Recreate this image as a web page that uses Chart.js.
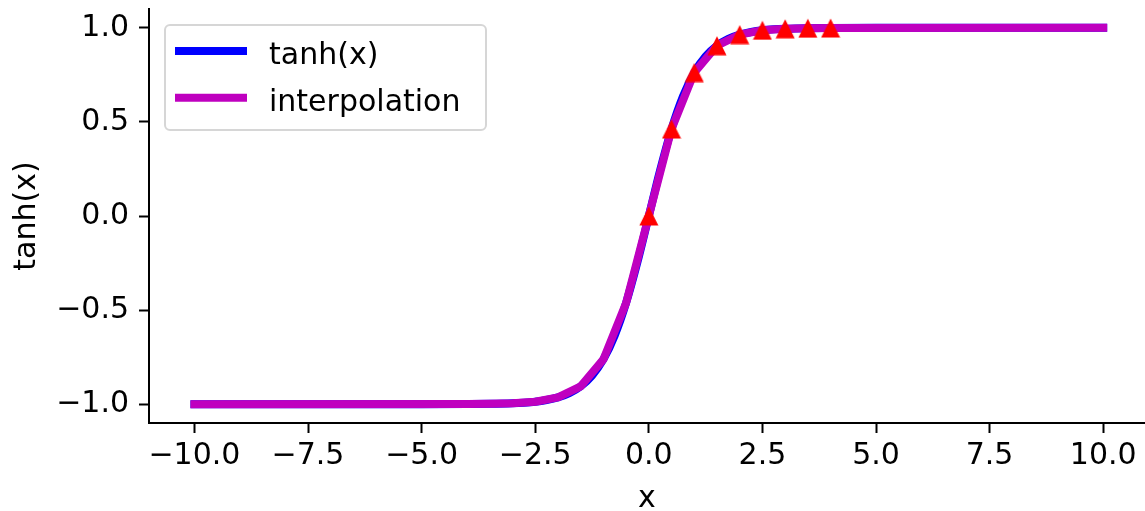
<!DOCTYPE html>
<html lang="en">
<head>
<meta charset="UTF-8" />
<title>tanh(x) and interpolation</title>
<script src="https://cdn.jsdelivr.net/npm/chart.js@4.4.1/dist/chart.umd.min.js"></script>
<style>
    html, body { margin: 0; padding: 0; background: #fff; }
    #wrap { width: 1145px; height: 511px; }
</style>
</head>
<body>
<div id="wrap"><canvas id="tanhChart" width="1145" height="511"></canvas></div>
<script>
    // blue curve
    const tanhX = [-10, -6, -5, -4, -3.5, -3, -2.75, -2.5, -2.25, -2, -1.75, -1.5, -1.25, -1, -0.75, -0.5, -0.25, 0,
                   0.25, 0.5, 0.75, 1, 1.25, 1.5, 1.75, 2, 2.25, 2.5, 2.75, 3, 3.5, 4, 5, 6, 10];
    const tanhY = [-1.0, -1.0, -0.9999, -0.999, -0.998, -0.995, -0.992, -0.987, -0.978, -0.964, -0.941, -0.905, -0.848, -0.762, -0.635, -0.462, -0.245, 0,
                   0.245, 0.462, 0.635, 0.762, 0.848, 0.905, 0.941, 0.964, 0.978, 0.987, 0.992, 0.995, 0.998, 0.999, 0.9999, 1.0, 1.0];

    // magenta piecewise line
    const interpX = [-10, -4, -3.5, -3, -2.5, -2, -1.5, -1, -0.5, 0, 0.5, 1, 1.5, 2, 2.5, 3, 3.5, 4, 10];
    const interpY = [-1.0, -0.999, -0.998, -0.995, -0.987, -0.964, -0.905, -0.762, -0.462, 0, 0.462, 0.762, 0.905, 0.964, 0.987, 0.995, 0.998, 0.999, 1.0];

    // red triangles
    const sampleX = [0, 0.5, 1, 1.5, 2, 2.5, 3, 3.5, 4];
    const sampleY = [0, 0.462, 0.762, 0.905, 0.964, 0.987, 0.995, 0.998, 0.999];

    const xTicks = [-10, -7.5, -5, -2.5, 0, 2.5, 5, 7.5, 10];
    const xTickLabels = ['\u221210.0', '\u22127.5', '\u22125.0', '\u22122.5', '0.0', '2.5', '5.0', '7.5', '10.0'];
    const yTicks = [-1, -0.5, 0, 0.5, 1];
    const yTickLabels = ['\u22121.0', '\u22120.5', '0.0', '0.5', '1.0'];

    const legendOrder = ['tanh(x)', 'interpolation'];

    const pts = (xs, ys) => xs.map((x, i) => ({ x: x, y: ys[i] }));

    // matplotlib-like '^' marker
    function makeTriangle(size, color) {
        const c = document.createElement('canvas');
        c.width = size;
        c.height = size;
        const g = c.getContext('2d');
        g.fillStyle = color;
        g.beginPath();
        g.moveTo(size / 2, 0.5);
        g.lineTo(size - 0.5, size - 0.5);
        g.lineTo(0.5, size - 0.5);
        g.closePath();
        g.fill();
        return c;
    }

    const legendBox = {
        id: 'legendBox',
        afterDraw(chart) {
            const ctx = chart.ctx;
            const x0 = 165, y0 = 25, w = 321, h = 105, r = 5;
            ctx.save();
            ctx.beginPath();
            ctx.moveTo(x0 + r, y0);
            ctx.arcTo(x0 + w, y0, x0 + w, y0 + h, r);
            ctx.arcTo(x0 + w, y0 + h, x0, y0 + h, r);
            ctx.arcTo(x0, y0 + h, x0, y0, r);
            ctx.arcTo(x0, y0, x0 + w, y0, r);
            ctx.closePath();
            ctx.fillStyle = 'rgba(255,255,255,0.8)';
            ctx.fill();
            ctx.strokeStyle = '#d6d6d6';
            ctx.lineWidth = 2;
            ctx.stroke();

            legendOrder.forEach((name, i) => {
                const ds = chart.data.datasets.find(d => d.label === name);
                const yy = y0 + 26 + i * 46.7;
                ctx.beginPath();
                ctx.moveTo(x0 + 10, yy);
                ctx.lineTo(x0 + 82, yy);
                ctx.strokeStyle = ds.borderColor;
                ctx.lineWidth = 8;
                ctx.lineCap = 'butt';
                ctx.stroke();
                ctx.fillStyle = '#000';
                ctx.font = "30px 'DejaVu Sans'";
                ctx.textAlign = 'left';
                ctx.textBaseline = 'alphabetic';
                ctx.fillText(name, x0 + 104, yy + 13);
            });
            ctx.restore();
        }
    };

    Chart.defaults.font.family = "'DejaVu Sans', sans-serif";
    Chart.defaults.font.size = 30;
    Chart.defaults.color = '#000';

    const axisGrid = { display: true, drawOnChartArea: false, drawTicks: true, tickLength: 10, tickWidth: 2, tickColor: '#000' };
    const axisBorder = { display: true, color: '#000', width: 2 };

    const ctx = document.getElementById('tanhChart').getContext('2d');
    new Chart(ctx, {
        type: 'scatter',
        data: {
            datasets: [
                { label: 'samples', data: pts(sampleX, sampleY), showLine: false, pointStyle: makeTriangle(20, '#ff0000'), pointRadius: 10, order: 0 },
                { label: 'interpolation', data: pts(interpX, interpY), showLine: true, borderColor: '#bf00bf', borderWidth: 8,
                  borderCapStyle: 'square', borderJoinStyle: 'round', pointRadius: 0, order: 1 },
                { label: 'tanh(x)', data: pts(tanhX, tanhY), showLine: true, borderColor: '#0000ff', borderWidth: 8,
                  borderCapStyle: 'square', borderJoinStyle: 'round', cubicInterpolationMode: 'monotone', pointRadius: 0, order: 2 }
            ]
        },
        options: {
            responsive: false,
            animation: false,
            events: [],
            layout: { autoPadding: false, padding: { top: 9, left: 0, right: 0, bottom: 0 } },
            plugins: { legend: { display: false }, tooltip: { enabled: false } },
            scales: {
                x: {
                    type: 'linear', min: -11, max: 10.92,
                    afterBuildTicks: s => { s.ticks = xTicks.map(v => ({ value: v })); },
                    afterFit: s => { s.height = 88; s.paddingLeft = 0; s.paddingRight = 0; },
                    ticks: { callback: v => xTickLabels[xTicks.indexOf(v)], padding: 5, maxRotation: 0, autoSkip: false },
                    grid: axisGrid,
                    border: axisBorder,
                    title: { display: true, text: 'x', font: { size: 30, lineHeight: 0.8 }, padding: { top: 0, bottom: 0 } }
                },
                y: {
                    type: 'linear', min: -1.1, max: 1.1,
                    afterBuildTicks: s => { s.ticks = yTicks.map(v => ({ value: v })); },
                    afterFit: s => { s.width = 149; s.paddingTop = 0; s.paddingBottom = 0; },
                    ticks: { callback: v => yTickLabels[yTicks.indexOf(v)], padding: 10, autoSkip: false },
                    grid: axisGrid,
                    border: axisBorder,
                    title: { display: true, text: 'tanh(x)', font: { size: 30, lineHeight: 1 }, padding: { top: 12, bottom: 0 } }
                }
            }
        },
        plugins: [legendBox]
    });
</script>
</body>
</html>
